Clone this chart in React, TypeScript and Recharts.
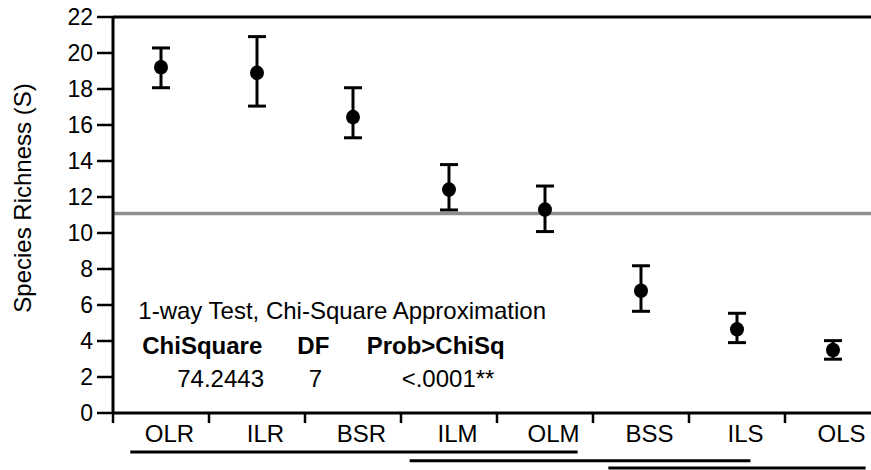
import React from 'react';
import { ComposedChart, Scatter, ErrorBar, XAxis, YAxis, ReferenceLine, Customized } from 'recharts';

const categories = ['OLR', 'ILR', 'BSR', 'ILM', 'OLM', 'BSS', 'ILS', 'OLS'];
const means = [19.21, 18.9, 16.44, 12.41, 11.3, 6.79, 4.65, 3.5];
const lowers = [18.07, 17.05, 15.29, 11.28, 10.08, 5.65, 3.91, 2.99];
const uppers = [20.28, 20.91, 18.07, 13.8, 12.61, 8.18, 5.54, 4.02];
const yTicks = [0, 2, 4, 6, 8, 10, 12, 14, 16, 18, 20, 22];
const boundaryTicks = [0, 1, 2, 3, 4, 5, 6, 7];
const centerTicks = [0.5, 1.5, 2.5, 3.5, 4.5, 5.5, 6.5, 7.5];
const grandMean = 11.08;
const groupFrom = [0.18, 3.09, 5.16];
const groupTo = [4.84, 6.64, 7.84];
const groupLevel = [-2.17, -2.65, -3.05];

const FONT = '"Liberation Sans", Arial, Helvetica, sans-serif';

const data = categories.map((c, i) => ({
  x: centerTicks[i],
  name: c,
  y: means[i],
  err: [means[i] - lowers[i], uppers[i] - means[i]],
}));

const allXTicks = [...boundaryTicks, ...centerTicks].sort((a, b) => a - b);

const XTick = (props: any) => {
  const { x, y, payload } = props;
  const v = payload.value;
  if (Number.isInteger(v)) {
    return <line x1={x} x2={x} y1={y} y2={y + 10} stroke="#000" strokeWidth={2.5} />;
  }
  const idx = centerTicks.indexOf(v);
  return (
    <text x={x + 8.5} y={y + 29} textAnchor="middle" fontSize={24} fontFamily={FONT} fill="#000">
      {categories[idx]}
    </text>
  );
};

const Dot = (props: any) => {
  const { cx, cy } = props;
  return <ellipse cx={cx} cy={cy} rx={7} ry={7.3} fill="#000" />;
};

const Annotations = () => (
  <g fontFamily={FONT} fill="#000">
    <text x={31} y={198} transform="rotate(-90, 31, 198)" textAnchor="middle" fontSize={24}>
      Species Richness (S)
    </text>
    <text x={138.3} y={319.3} fontSize={24}>1-way Test, Chi-Square Approximation</text>
    <text x={262.3} y={354} fontSize={24} fontWeight="bold" textAnchor="end">ChiSquare</text>
    <text x={313.3} y={354} fontSize={24} fontWeight="bold" textAnchor="middle">DF</text>
    <text x={366.7} y={354} fontSize={24} fontWeight="bold">Prob&gt;ChiSq</text>
    <text x={264} y={386.7} fontSize={24} textAnchor="end">74.2443</text>
    <text x={315.5} y={386.7} fontSize={24} textAnchor="middle">7</text>
    <text x={401.7} y={386.7} fontSize={24}>&lt;.0001**</text>
  </g>
);

export default function App() {
  return (
    <div style={{ position: 'absolute', left: 0, top: 0, width: 871, height: 470, overflow: 'hidden', background: '#fff' }}>
      <ComposedChart width={871} height={470} data={data} margin={{ top: 17, right: 0, bottom: 0, left: 0 }}>
        <XAxis
          dataKey="x"
          type="number"
          domain={[0, 7.896]}
          allowDataOverflow
          ticks={allXTicks}
          interval={0}
          height={57}
          tickSize={0}
          tickMargin={0}
          axisLine={{ stroke: '#000', strokeWidth: 3 }}
          tickLine={false}
          tick={<XTick />}
        />
        <YAxis
          type="number"
          domain={[0, 22]}
          ticks={yTicks}
          interval={0}
          width={113}
          tickSize={16}
          tickMargin={4}
          tick={{ fontSize: 23, fill: '#000', fontFamily: FONT }}
          axisLine={{ stroke: '#000', strokeWidth: 3 }}
          tickLine={{ stroke: '#000', strokeWidth: 2.5 }}
        />
        <ReferenceLine y={grandMean} stroke="#8f8f8f" strokeWidth={3.5} />
        <ReferenceLine y={22} stroke="#000" strokeWidth={3} ifOverflow="visible" />
        {groupFrom.map((f, i) => (
          <ReferenceLine
            key={i}
            ifOverflow="visible"
            stroke="#000"
            strokeWidth={3}
            segment={[{ x: f, y: groupLevel[i] }, { x: groupTo[i], y: groupLevel[i] }]}
          />
        ))}
        <Scatter dataKey="y" fill="#000" shape={<Dot />} isAnimationActive={false}>
          <ErrorBar dataKey="err" direction="y" width={9} stroke="#000" strokeWidth={3} isAnimationActive={false} />
        </Scatter>
        <Customized component={Annotations} />
      </ComposedChart>
    </div>
  );
}
